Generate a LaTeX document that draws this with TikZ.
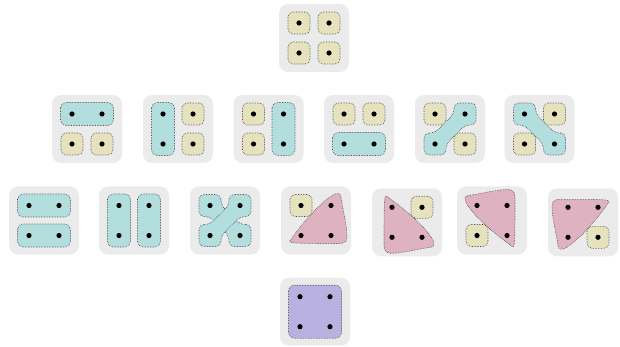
\documentclass[tikz,border=0pt]{standalone}
\usepackage{tikz}
\definecolor{panelgray}{RGB}{235,235,235}
\definecolor{setyellow}{RGB}{229,226,189}
\definecolor{setcyan}{RGB}{178,223,222}
\definecolor{setpink}{RGB}{222,178,193}
\definecolor{setpurple}{RGB}{185,178,224}
\definecolor{blobline}{RGB}{70,70,70}

\tikzset{
  panel/.style={fill=panelgray, rounded corners=9pt},
  blob/.style={draw=blobline, densely dotted, line width=0.6pt},
  element/.style={fill=black},
}

% grey square behind one partition
\newcommand{\panelbg}{\fill[panel] (-35,-34) rectangle (35,34);}
% the four elements
\newcommand{\paneldots}{%
  \foreach \px/\py in {-15/-15, 15/-15, -15/15, 15/15}
    \fill[element] (\px,\py) circle (2.6);}
% block with one element
\newcommand{\blockone}[2]{%
  \draw[blob, fill=setyellow, rounded corners=5pt] (#1-11,#2-11) rectangle (#1+11,#2+11);}
% block with two neighbouring elements
\newcommand{\blocktwo}[4]{%
  \draw[blob, fill=setcyan, rounded corners=5.5pt] (#1-11.5,#2-11.5) rectangle (#3+11.5,#4+11.5);}
% block with two opposite elements (xscale=-1 for the other diagonal)
\newcommand{\blockdiag}[1]{%
  \draw[blob, fill=setcyan, rounded corners=5pt, xscale=#1]
    (-26,4) -- (-15.3,4) -- (4,-15.3) -- (4,-26) -- (26,-26) -- (26,-4)
    -- (15.3,-4) -- (-4,15.3) -- (-4,26) -- (-26,26) -- cycle;}
% block with three elements, corner at bottom right before rotating
\newcommand{\blocktri}[1]{%
  \draw[blob, fill=setpink, rotate=#1]
    (-25,19) .. controls (-14,3) and (6,-20) .. (18,-26)
    .. controls (22,-28) and (25,-27) .. (25,-23)
    .. controls (27,-10) and (31,5) .. (31,16)
    .. controls (31,21) and (28,23) .. (23,23)
    .. controls (8,23) and (-12,23) .. (-21,22.5)
    .. controls (-26,22) and (-28,21) .. (-25,19) -- cycle;}
% block with all four elements
\newcommand{\blockall}{%
  \draw[blob, fill=setpurple, rounded corners=6pt] (-26.5,-26.5) rectangle (26.5,26.5);}
% one partition at (x,y)
\newcommand{\panel}[3]{%
  \begin{scope}[shift={(#1,#2)}]
    \panelbg
    #3
    \paneldots
  \end{scope}}

\begin{document}
\begin{tikzpicture}[x=1pt, y=-1pt]
  \useasboundingbox (0,0) rectangle (620,347);

  % Top: all singletons
  \panel{314}{38}{\blockone{-15}{-15}\blockone{15}{-15}\blockone{-15}{15}\blockone{15}{15}}

  % Second row: one pair
  \panel{87}{129}{\blocktwo{-15}{-15}{15}{-15}\blockone{-15}{15}\blockone{15}{15}}
  \panel{178}{129}{\blocktwo{-15}{-15}{-15}{15}\blockone{15}{-15}\blockone{15}{15}}
  \panel{268.5}{129}{\blockone{-15}{-15}\blockone{-15}{15}\blocktwo{15}{-15}{15}{15}}
  \panel{359}{129}{\blockone{-15}{-15}\blockone{15}{-15}\blocktwo{-15}{15}{15}{15}}
  \panel{450}{129}{\blockone{-15}{-15}\blockone{15}{15}\blockdiag{1}}
  \panel{539.5}{129}{\blockone{15}{-15}\blockone{-15}{15}\blockdiag{-1}}

  % Third row: two pairs, or a triple
  \panel{44}{220.5}{\blocktwo{-15}{-15}{15}{-15}\blocktwo{-15}{15}{15}{15}}
  \panel{134}{220.5}{\blocktwo{-15}{-15}{-15}{15}\blocktwo{15}{-15}{15}{15}}
  \panel{225}{220.5}{\blockdiag{-1}\blockdiag{1}}
  \panel{316}{220.5}{\blockone{-15}{-15}\blocktri{0}}
  \panel{407}{222.3}{\blockone{15}{-15}\blocktri{-90}}
  \panel{492}{220.5}{\blockone{-15}{15}\blocktri{90}}
  \panel{583}{222.3}{\blockone{15}{15}\blocktri{180}}

  % Bottom: one block
  \panel{315}{311.7}{\blockall}

\end{tikzpicture}
\end{document}
